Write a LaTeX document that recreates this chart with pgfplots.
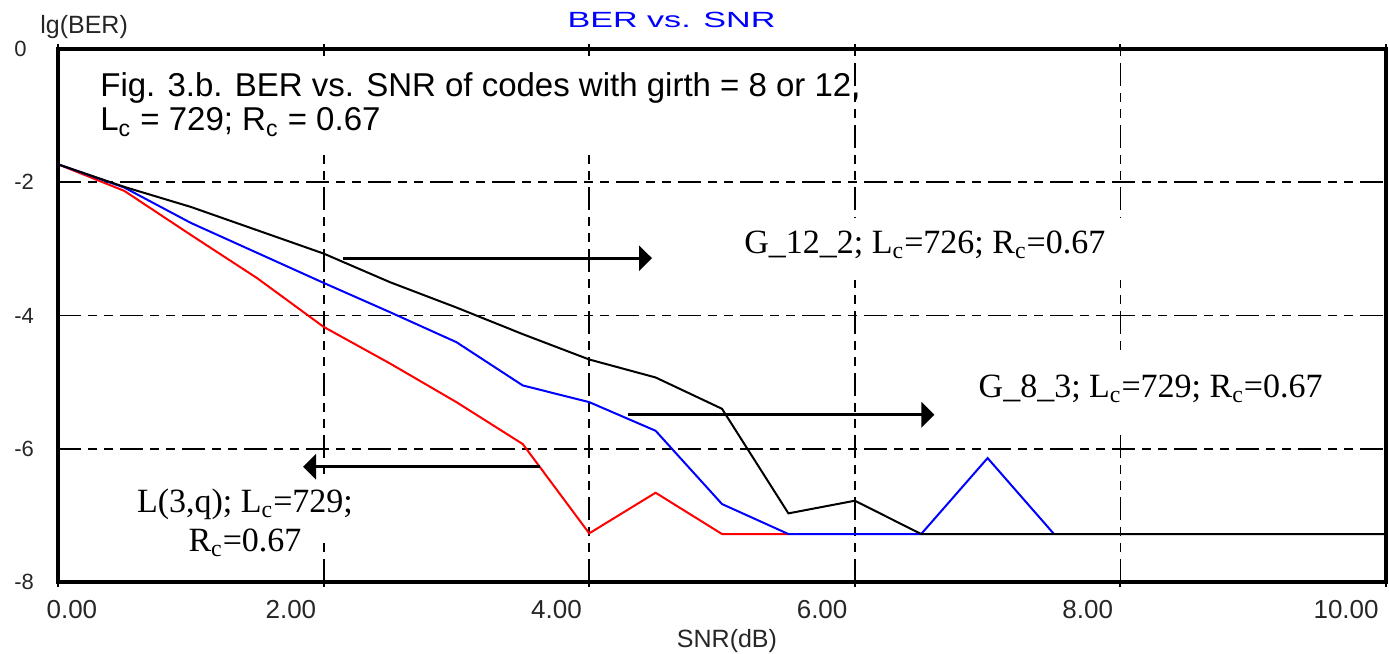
\documentclass[border=0pt]{standalone}
\usepackage{fontspec}
\setmainfont{Liberation Sans}
\newfontfamily\tnr{Liberation Serif}
\usepackage{pgfplots}
\pgfplotsset{compat=1.18}
\usetikzlibrary{arrows.meta}

\pgfplotstableread{
x     y
0.0  -1.73
0.5  -2.13
1.0  -2.79
1.5  -3.44
2.0  -4.17
2.5  -4.72
3.0  -5.30
3.5  -5.93
4.0  -7.27
4.5  -6.66
5.0  -7.28
5.5  -7.28
}\redtab
\pgfplotstableread{
x     y
0.0  -1.73
0.5  -2.08
1.0  -2.61
1.5  -3.06
2.0  -3.51
2.5  -3.95
3.0  -4.40
3.5  -5.05
4.0  -5.30
4.5  -5.73
5.0  -6.83
5.5  -7.28
6.0  -7.28
6.5  -7.28
7.0  -6.14
7.5  -7.28
}\bluetab
\pgfplotstableread{
x     y
0.0  -1.73
0.5  -2.07
1.0  -2.37
1.5  -2.72
2.0  -3.07
2.5  -3.50
3.0  -3.88
3.5  -4.28
4.0  -4.66
4.5  -4.93
5.0  -5.40
5.5  -6.97
6.0  -6.78
6.5  -7.28
7.0  -7.28
10.0 -7.28
}\blacktab

\tikzset{bigarrow/.style={line width=1.5pt, -{Triangle[length=6.5pt,width=12.5pt]}}}

\begin{document}
\begin{tikzpicture}
\useasboundingbox (-29pt,-36pt) rectangle (665.5pt,291pt);
\begin{axis}[
    at={(0pt,0pt)}, anchor=south west,
    scale only axis,
    width=664pt, height=266.5pt,
    xmin=0, xmax=10, ymin=-8, ymax=0,
    axis line style={line width=2.2pt, black},
    xtick={0,2,4,6,8,10},
    xticklabels={{\rlap{\hspace*{-1.5pt}0.00}},2.00,4.00,6.00,8.00,10.00},
    ytick={-8,-6,-4,-2,0},
    yticklabels={-8,-6,-4,-2,0},
    tick align=outside,
    xtick style={draw=black, line width=1pt},
    ytick style={draw=none},
    major tick length=2.5pt,
    grid=major,
    major grid style={black, line width=0.9pt,
        dash pattern=on 11.5pt off 3.5pt on 4.5pt off 3.5pt on 4.5pt off 3.5pt},
    xticklabel style={anchor=north east, inner sep=0pt, xshift=-3.5pt, yshift=-6.5pt,
        font=\fontsize{13}{13}\selectfont, text=black!85},
    yticklabel style={anchor=west, inner sep=0pt, xshift=-19.5pt,
        font=\fontsize{11}{11}\selectfont, text=black!85},
    xlabel={SNR(dB)},
    xlabel style={at={(axis description cs:0.5,0)}, anchor=base, inner sep=0pt,
        xshift=2.5pt, yshift=-32.5pt, font=\fontsize{12.5}{12.5}\selectfont, text=black!85},
    clip=false,
]
% white boxes behind the texts
\fill[white] (axis cs:0.166,-0.165) rectangle (axis cs:5.96,-1.56);
\fill[white] (axis cs:4.83,-2.54) rectangle (axis cs:8.55,-3.47);
\fill[white] (axis cs:6.60,-4.62) rectangle (axis cs:9.88,-5.72);
\fill[white] (axis cs:0.18,-6.43) rectangle (axis cs:2.31,-7.42);

\addplot[red, line width=1pt] table {\redtab};
\addplot[blue, line width=1pt] table {\bluetab};
\addplot[black, line width=1pt] table {\blacktab};

\draw[bigarrow] (axis cs:2.146,-3.14) -- (axis cs:4.473,-3.14);
\draw[bigarrow] (axis cs:4.29,-5.49) -- (axis cs:6.60,-5.49);
\draw[bigarrow] (axis cs:3.63,-6.27) -- (axis cs:1.845,-6.27);

\node[anchor=base, inner sep=0pt, text=blue, font=\fontsize{11}{11}\selectfont]
    at (axis cs:4.62,0.33) {\scalebox{1.55}[1]{BER vs. SNR}};
\node[anchor=base west, inner sep=0pt, font=\fontsize{12.5}{12.5}\selectfont, text=black!85]
    at (axis cs:-0.136,0.24) {lg(BER)};

\node[anchor=base west, inner sep=0pt, font=\fontsize{16.5}{17}\selectfont]
    at (axis cs:0.316,-0.72) {Fig. 3.b. BER vs. SNR of codes with girth = 8 or 12,};
\node[anchor=base west, inner sep=0pt, font=\fontsize{16.5}{17}\selectfont]
    at (axis cs:0.316,-1.23) {L\textsubscript{c} = 729; R\textsubscript{c} = 0.67};

\node[anchor=base west, inner sep=0pt, font=\tnr\fontsize{17}{17}\selectfont]
    at (axis cs:5.166,-3.063) {G\_12\_2; L\textsubscript{c}=726; R\textsubscript{c}=0.67};
\node[anchor=base west, inner sep=0pt, font=\tnr\fontsize{17}{17}\selectfont]
    at (axis cs:6.93,-5.225) {G\_8\_3; L\textsubscript{c}=729; R\textsubscript{c}=0.67};
\node[anchor=base, inner sep=0pt, font=\tnr\fontsize{17}{17}\selectfont]
    at (axis cs:1.408,-6.95) {L(3,q); L\textsubscript{c}=729;};
\node[anchor=base, inner sep=0pt, font=\tnr\fontsize{17}{17}\selectfont]
    at (axis cs:1.408,-7.54) {R\textsubscript{c}=0.67};
\end{axis}
\end{tikzpicture}
\end{document}
